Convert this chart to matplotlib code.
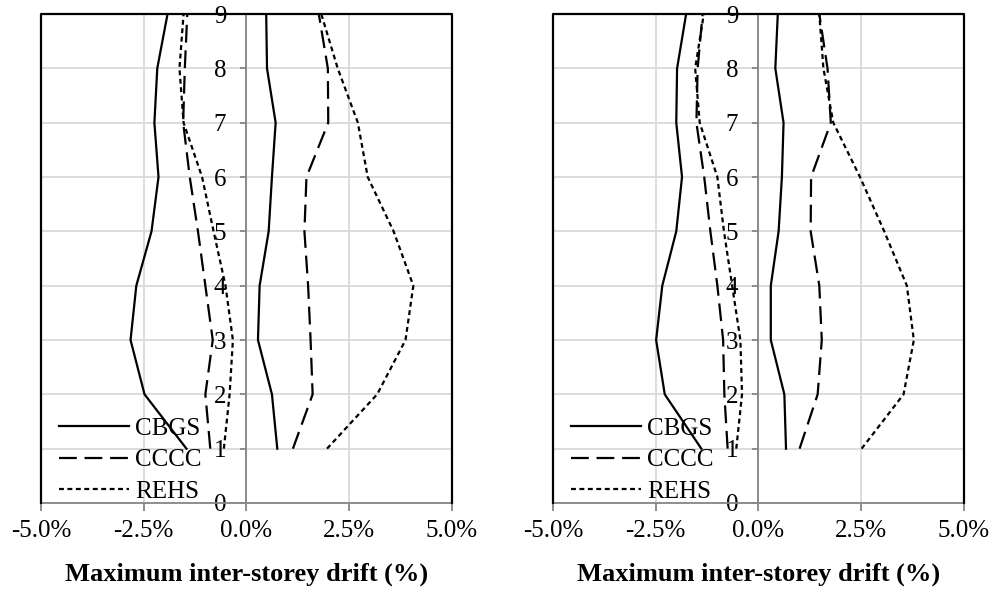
import matplotlib
matplotlib.use("Agg")
import matplotlib.pyplot as plt
from matplotlib.ticker import FixedLocator

plt.rcParams['font.family'] = ['Liberation Serif', 'DejaVu Serif']

storeys = [1, 2, 3, 4, 5, 6, 7, 8, 9]
series_names = ["CBGS", "CCCC", "REHS"]

left_cbgs_neg = [-1.46, -2.48, -2.82, -2.68, -2.31, -2.14, -2.24, -2.17, -1.92]
left_cbgs_pos = [0.75, 0.62, 0.28, 0.32, 0.54, 0.62, 0.71, 0.50, 0.48]
left_cccc_neg = [-0.88, -1.00, -0.82, -1.00, -1.18, -1.38, -1.54, -1.50, -1.44]
left_cccc_pos = [1.13, 1.61, 1.56, 1.50, 1.41, 1.46, 1.99, 1.98, 1.76]
left_rehs_neg = [-0.55, -0.41, -0.33, -0.51, -0.80, -1.08, -1.53, -1.63, -1.53]
left_rehs_pos = [1.96, 3.18, 3.87, 4.06, 3.58, 2.95, 2.71, 2.22, 1.82]

right_cbgs_neg = [-1.39, -2.28, -2.49, -2.34, -2.00, -1.86, -2.00, -1.98, -1.76]
right_cbgs_pos = [0.67, 0.63, 0.30, 0.30, 0.49, 0.57, 0.61, 0.41, 0.47]
right_cccc_neg = [-0.75, -0.83, -0.86, -1.00, -1.17, -1.32, -1.51, -1.48, -1.36]
right_cccc_pos = [1.00, 1.44, 1.54, 1.48, 1.27, 1.28, 1.76, 1.68, 1.48]
right_rehs_neg = [-0.54, -0.40, -0.44, -0.64, -0.84, -1.00, -1.43, -1.54, -1.33]
right_rehs_pos = [2.51, 3.53, 3.78, 3.61, 3.06, 2.47, 1.82, 1.58, 1.48]

x_ticks = [-5.0, -2.5, 0.0, 2.5, 5.0]
x_tick_labels = ["-5.0%", "-2.5%", "0.0%", "2.5%", "5.0%"]
y_ticks = [0, 1, 2, 3, 4, 5, 6, 7, 8, 9]
y_tick_labels = [str(v) for v in y_ticks]
x_label = "Maximum inter-storey drift (%)"

panels = [
    (left_cbgs_neg, left_cbgs_pos, left_cccc_neg, left_cccc_pos, left_rehs_neg, left_rehs_pos),
    (right_cbgs_neg, right_cbgs_pos, right_cccc_neg, right_cccc_pos, right_rehs_neg, right_rehs_pos),
]

styles = [
    dict(linestyle='-'),
    dict(linestyle=(0, (8, 3.5))),
    dict(linestyle=(0, (2.2, 1.6))),
]

fig = plt.figure(figsize=(9.94, 5.94), dpi=100)
positions = [[0.0412, 0.1532, 0.4135, 0.8232], [0.5563, 0.1532, 0.4135, 0.8232]]
grid_c = '#d9d9d9'
axis_c = '#868686'
fs = 18

for pos, data in zip(positions, panels):
    ax = fig.add_axes(pos)
    ax.spines['left'].set_position(('data', 0))
    ax.set_xlim(-5, 5)
    ax.set_ylim(0, 9)
    handles = []
    for i, name in enumerate(series_names):
        neg = data[2 * i]
        posv = data[2 * i + 1]
        h, = ax.plot(neg, storeys, color='black', lw=1.6, label=name, zorder=3, **styles[i])
        ax.plot(posv, storeys, color='black', lw=1.6, zorder=3, **styles[i])
        handles.append(h)
    ax.xaxis.set_major_locator(FixedLocator(x_ticks))
    ax.set_xticklabels(x_tick_labels)
    ax.yaxis.set_major_locator(FixedLocator(y_ticks))
    ax.set_yticklabels(y_tick_labels)
    ax.grid(True, color=grid_c, lw=1.3, zorder=0)
    ax.set_axisbelow(True)
    ax.spines['left'].set_color(axis_c)
    ax.spines['left'].set_linewidth(1.3)
    ax.spines['bottom'].set_color(axis_c)
    ax.spines['bottom'].set_linewidth(1.3)
    ax.spines['top'].set_visible(False)
    ax.spines['right'].set_visible(False)
    ax.plot([0, 0, 1, 1], [0, 1, 1, 0], transform=ax.transAxes, color='black',
            lw=1.6, clip_on=False, zorder=4)
    ax.tick_params(axis='both', colors=axis_c, labelcolor='black',
                   width=1.3, labelsize=fs)
    ax.tick_params(axis='y', length=4.5, pad=10)
    ax.tick_params(axis='x', length=6, pad=6)
    ax.set_xlabel(x_label, fontsize=19, fontweight='bold', labelpad=15)
    ax.legend(handles=handles, loc='lower left', bbox_to_anchor=(0.02, -0.02),
              frameon=False, fontsize=fs, handlelength=2.8, handletextpad=0.25,
              labelspacing=0.36, borderaxespad=0.0)

fig.savefig('out.png', dpi=100)
